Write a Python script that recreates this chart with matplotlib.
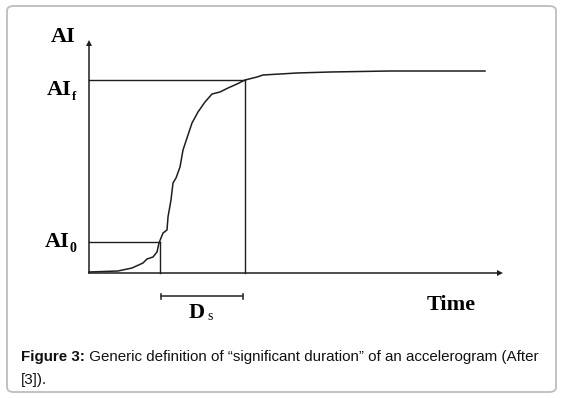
import matplotlib
matplotlib.use("Agg")
import matplotlib.pyplot as plt
from matplotlib.patches import FancyBboxPatch

# Cumulative Arias intensity curve (time, AI)
time = [0, 29, 43, 54, 58, 64, 68, 70, 74, 78, 79, 82, 84, 87, 91, 94, 99, 103,
        109, 116, 123, 131, 139, 148, 156, 168, 174, 208, 241, 301, 351, 396]
ai = [1, 2, 5, 10, 14, 16, 21, 30, 40, 43, 56, 73, 90, 95, 106, 123, 138, 150,
      161, 171, 179, 181, 185, 189, 193, 196, 198, 200, 201, 202, 202, 202]
ai0 = 31
aif = 193
t0 = 71
tf = 156
labels = ["AI", "AI", "AI", "Time", "D"]
caption1_bold = "Figure 3:"
caption1 = " Generic definition of \u201csignificant duration\u201d of an accelerogram (After"
caption2 = "[3])."

W, H = 563, 398
fig = plt.figure(figsize=(W / 100, H / 100), dpi=100)
fig.patch.set_facecolor("white")

# rounded frame
frame = FancyBboxPatch((7 / W, 6 / H), 549 / W, 386 / H,
                       boxstyle="round,pad=0,rounding_size=0.012",
                       transform=fig.transFigure, fc="none", ec="#bdbdbd", lw=1.3,
                       zorder=5)
fig.patches.append(frame)

ax = fig.add_axes([0, 0, 1, 1])
ax.set_xlim(-89, W - 89)
ax.set_ylim(273 - H, 273)
ax.axis("off")
ax.patch.set_alpha(0)

lc = "#1e1e1e"
lw = 1.1
# axes with arrows
ax.plot([0, 0], [0, 228], color=lc, lw=lw)
ax.plot([0], [230], marker="^", color=lc, ms=5, mew=0)
ax.plot([0, 408], [0, 0], color=lc, lw=lw)
ax.plot([411], [0], marker=">", color=lc, ms=5, mew=0)

# curve
ax.plot(time, ai, color=lc, lw=lw)

# guide lines
ax.plot([0, t0], [ai0, ai0], color=lc, lw=1.0)
ax.plot([t0, t0], [0, ai0], color=lc, lw=1.0)
ax.plot([0, tf], [aif, aif], color=lc, lw=1.0)
ax.plot([tf, tf], [0, aif], color=lc, lw=1.0)

# D_s bar
ax.plot([t0 + 1, tf - 2], [-23, -23], color="#333333", lw=1.2)
ax.plot([t0 + 1, t0 + 1], [-25.5, -20.5], color="#333333", lw=1.2)
ax.plot([tf - 2, tf - 2], [-25.5, -20.5], color="#333333", lw=1.2)

serif = "Liberation Serif"
fs = 16
ax.text(-13, 236, labels[0], family=serif, weight="bold", fontsize=fs,
        ha="right", va="center")
ax.text(-17, 183, labels[1], family=serif, weight="bold", fontsize=fs,
        ha="right", va="center")
ax.text(-17, 176, "f", family=serif, weight="bold", fontsize=9,
        ha="left", va="center")
ax.text(-19, 31, labels[2], family=serif, weight="bold", fontsize=fs,
        ha="right", va="center")
ax.text(-19, 24, "0", family=serif, weight="bold", fontsize=10,
        ha="left", va="center")
ax.text(362, -32, labels[3], family=serif, weight="bold", fontsize=fs,
        ha="center", va="center")
ax.text(108, -40, labels[4], family=serif, weight="bold", fontsize=fs,
        ha="center", va="center")
ax.text(121, -44, "s", family=serif, fontsize=10, ha="center", va="center")

# caption
sans = "Liberation Sans"
cfs = 10.9
t1 = fig.text(21 / W, 1 - 357 / H, caption1_bold, family=sans, weight="bold",
              fontsize=cfs, ha="left", va="center", color="#111111")
fig.canvas.draw()
bb = t1.get_window_extent()
fig.text(bb.x1 / W, 1 - 357 / H, caption1, family=sans, fontsize=cfs,
         ha="left", va="center", color="#111111")
fig.text(21 / W, 1 - 380 / H, caption2, family=sans, fontsize=cfs,
         ha="left", va="center", color="#111111")

fig.savefig("out.png", dpi=100)
